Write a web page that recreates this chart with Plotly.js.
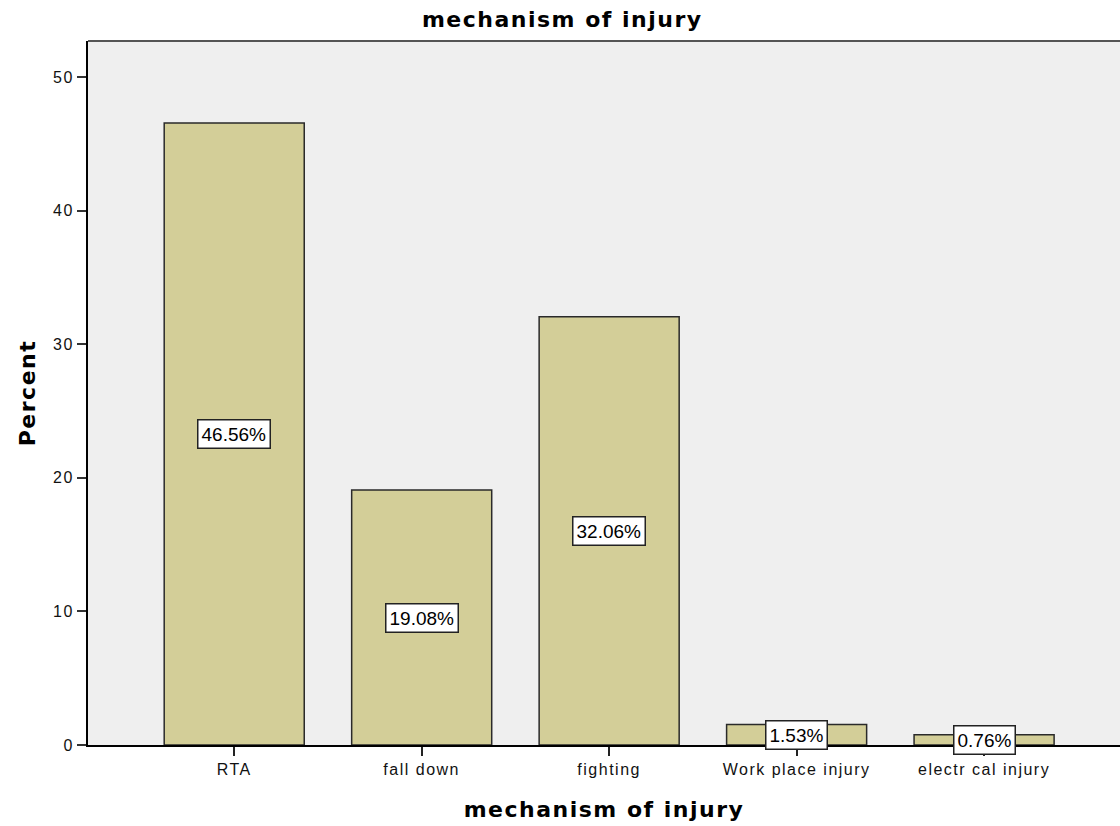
<!DOCTYPE html>
<html>
<head>
<meta charset="utf-8">
<script src="https://cdn.plot.ly/plotly-3.0.1.min.js"></script>
<style>
html,body{margin:0;padding:0;background:#fff;}
#chart{width:1120px;height:826px;}
#chart .xtick text, #chart .ytick text {letter-spacing:1.5px;}
#chart .gtitle, #chart .xtitle, #chart .ytitle {letter-spacing:1.5px;}
</style>
</head>
<body>
<div id="chart"></div>
<script>
const categories = ["RTA", "fall down", "fighting", "Work place injury", "electrical injury"];
const tickLabels = ["RTA", "fall down", "fighting", "Work place injury", "electr cal injury"];
const percents = [46.56, 19.08, 32.06, 1.53, 0.76];
const labels = ["46.56%", "19.08%", "32.06%", "1.53%", "0.76%"];

const baseFont = "Liberation Sans, Arial, sans-serif";
const titleFont = "DejaVu Sans, Liberation Sans, sans-serif";

const trace = {
  type: "bar",
  x: categories,
  y: percents,
  width: 0.747,
  marker: {color: "#d3ce98", line: {color: "#2a2a2a", width: 1.5}},
  hoverinfo: "x+y"
};

const annotations = categories.map((c, i) => ({
  x: c, y: percents[i] / 2, xref: "x", yref: "y",
  text: labels[i], showarrow: false,
  font: {family: baseFont, size: 19, color: "#000"},
  bgcolor: "#ffffff", bordercolor: "#222", borderwidth: 1.5, borderpad: 3
}));

const layout = {
  width: 1120, height: 826,
  margin: {l: 88, r: 0, t: 41, b: 81},
  paper_bgcolor: "#ffffff",
  plot_bgcolor: "#efefef",
  showlegend: false,
  font: {family: baseFont, color: "#000"},
  title: {
    text: "<b>mechanism of injury</b>",
    font: {family: titleFont, size: 22, color: "#000"},
    x: 0.502, xanchor: "center", y: 1 - 19/826, yanchor: "middle", yref: "container"
  },
  xaxis: {
    type: "category",
    categoryarray: categories,
    tickvals: categories,
    ticktext: tickLabels,
    range: [-0.78, 4.725],
    showline: true, linecolor: "#000", linewidth: 2,
    ticks: "outside", ticklen: 9, tickwidth: 2, tickcolor: "#222",
    tickfont: {family: baseFont, size: 16, color: "#111"},
    showgrid: false, zeroline: false,
    title: {text: "<b>mechanism of injury</b>", font: {family: titleFont, size: 22, color: "#000"}, standoff: 24}
  },
  yaxis: {
    range: [0, 52.7],
    tickvals: [0, 10, 20, 30, 40, 50],
    showline: true, linecolor: "#000", linewidth: 2,
    ticks: "outside", ticklen: 9, tickwidth: 2, tickcolor: "#333",
    tickfont: {family: baseFont, size: 16, color: "#111"},
    showgrid: false, zeroline: false,
    title: {text: "<b>Percent</b>", font: {family: titleFont, size: 22, color: "#000"}, standoff: 14}
  },
  shapes: [{
    type: "line", xref: "paper", yref: "paper", x0: 0, x1: 1, y0: 1, y1: 1,
    line: {color: "#555", width: 2}
  }],
  annotations: annotations
};

Plotly.newPlot("chart", [trace], layout, {displayModeBar: false, staticPlot: true});
</script>
</body>
</html>
